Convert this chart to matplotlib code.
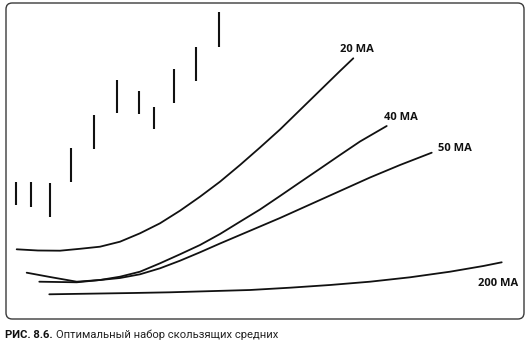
import matplotlib
matplotlib.use("Agg")
import matplotlib.pyplot as plt
from matplotlib.patches import FancyBboxPatch

# Price bars (session position, high, low)
bar_x = [10, 25, 44, 65, 88, 111, 133, 148, 168, 190, 213]
bar_high = [137, 137, 136, 171, 204, 239, 228, 212, 250, 272, 307]
bar_low = [114, 112, 102, 137, 170, 206, 205, 190, 216, 238, 272]

# Moving averages
ma20_x = [10.7, 32, 54, 74, 94, 114, 134, 154, 174, 194, 214, 234, 254, 274, 294, 314, 334, 347.3]
ma20_y = [69.7, 68.5, 68.3, 70.2, 72.3, 77.3, 85.7, 95.7, 108.3, 122.3, 137.3, 154, 171.5, 189.5,
          209, 228.5, 248, 260.7]

ma40_x = [20.7, 44, 70.7, 94, 114, 134, 154, 174, 194, 214, 234, 254, 274, 294, 314, 334, 354, 380.7]
ma40_y = [46.3, 42, 37.3, 39, 42.3, 47.3, 55.7, 64.7, 74, 85, 97.3, 109.5, 123, 136.7, 150.3, 164,
          177.5, 193]

ma50_x = [33.3, 70.7, 94, 114, 134, 154, 174, 194, 214, 234, 254, 274, 304, 334, 364, 394, 425.7]
ma50_y = [37.3, 36.7, 39, 41, 44.7, 50.7, 58.3, 66.7, 75.5, 84, 92.5, 101, 114.5, 128, 141.5,
          154, 166.3]

ma200_x = [43.3, 127, 164, 244, 284, 324, 364, 404, 444, 477.3, 495.7]
ma200_y = [24.7, 26, 26.7, 29, 31.3, 34, 37.3, 41.7, 47.3, 53, 56.7]

labels = ["20 MA", "40 MA", "50 MA", "200 MA"]
label_pos = [(351, 269), (395, 201), (449, 170), (492, 35)]

W, H = 530, 349
fig = plt.figure(figsize=(W / 100, H / 100), dpi=100)
fig.patch.set_facecolor("white")

# axes occupy the framed panel
left, top, right, bottom = 6, 3, 524, 319
ax = fig.add_axes([left / W, 1 - bottom / H, (right - left) / W, (bottom - top) / H])
ax.set_xlim(0, right - left)
ax.set_ylim(0, bottom - top)
ax.axis("off")

frame = FancyBboxPatch((0, 0), 1, 1, boxstyle="round,pad=0,rounding_size=0.012",
                       transform=ax.transAxes, fill=False, edgecolor="#3a3a3a",
                       linewidth=1.0, clip_on=False, mutation_aspect=518 / 316)
ax.add_patch(frame)

ax.vlines(bar_x, bar_low, bar_high, color="#111111", linewidth=1.5)

for xs, ys in [(ma20_x, ma20_y), (ma40_x, ma40_y), (ma50_x, ma50_y), (ma200_x, ma200_y)]:
    ax.plot(xs, ys, color="#111111", linewidth=1.3, solid_capstyle="round",
            solid_joinstyle="round")

for text, (lx, ly) in zip(labels, label_pos):
    ax.text(lx, ly, text, ha="center", va="center", fontsize=8,
            family="Open Sans", fontweight="bold", color="#111111")

# caption
cap_y = 1 - 335 / H
t1 = fig.text(5 / W, cap_y, "РИС. 8.6.", ha="left", va="center", fontsize=8.1,
              family="Roboto", fontweight="bold", color="#111111")
fig.canvas.draw()
bb = t1.get_window_extent()
fig.text((bb.x1 + 3) / W, cap_y, "Оптимальный набор скользящих средних", ha="left",
         va="center", fontsize=8.1, family="Roboto", color="#222222")

fig.savefig("out.png", dpi=100)
